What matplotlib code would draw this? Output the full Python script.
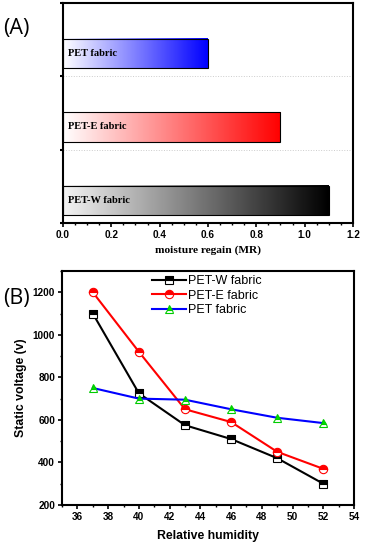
import numpy as np
import matplotlib
matplotlib.use("Agg")
import matplotlib.pyplot as plt
from matplotlib.colors import LinearSegmentedColormap
from matplotlib.ticker import MultipleLocator

# ---- data ----
fabrics_a = ["PET-W fabric", "PET-E fabric", "PET fabric"]
mr_values = [1.10, 0.90, 0.60]
bar_colors = ["#000000", "#ff0000", "#0000ff"]
bar_start_colors = ["#f4f4f4", "#ffffff", "#ffffff"]

humidity = [37, 40, 43, 46, 49, 52]
v_petw = [1100, 725, 575, 510, 420, 300]
v_pete = [1200, 920, 650, 590, 450, 370]
v_pet = [750, 700, 695, 650, 610, 585]

fig = plt.figure(figsize=(3.65, 5.45), dpi=100)

SANS = ["Liberation Sans", "DejaVu Sans"]
SERIF = ["Liberation Serif", "DejaVu Serif"]

# ---------- Panel A ----------
axA = fig.add_axes([0.1726, 0.591, 0.7945, 0.4035])
bar_off = 0.31
bar_h = 0.40
grad = np.linspace(0, 1, 256).reshape(1, -1)
for i, (name, val, c, c0) in enumerate(zip(fabrics_a, mr_values, bar_colors, bar_start_colors)):
    cmap = LinearSegmentedColormap.from_list("g%d" % i, [c0, c])
    y0 = i + bar_off - bar_h / 2
    y1 = i + bar_off + bar_h / 2
    axA.imshow(grad, cmap=cmap, extent=[0, val, y0, y1], aspect="auto", zorder=2)
    axA.barh(i + bar_off, val, height=bar_h, facecolor="none", edgecolor="black",
             linewidth=0.8, zorder=3)
    axA.text(0.02, i + bar_off, name, family=SERIF, fontweight="bold", fontsize=7.5,
             va="center", ha="left", zorder=4)
axA.set_xlim(0, 1.2)
axA.set_ylim(0, 3)
axA.set_yticks([0, 1, 2, 3])
axA.set_yticklabels([])
axA.tick_params(axis="y", length=2, width=1.5, direction="out")
for yy in [1, 2]:
    axA.axhline(yy, color="#cccccc", linestyle=":", linewidth=0.7, zorder=1)
axA.xaxis.set_major_locator(MultipleLocator(0.2))
axA.xaxis.set_minor_locator(MultipleLocator(0.05))
axA.tick_params(axis="x", which="major", length=3, width=1.2, direction="out", pad=2)
axA.tick_params(axis="x", which="minor", length=1.5, width=1.0, direction="out")
for lab in axA.get_xticklabels():
    lab.set_family(SANS)
    lab.set_fontweight("bold")
    lab.set_fontsize(7.2)
axA.set_xlabel("moisture regain (MR)", family=SERIF, fontweight="bold", fontsize=8.2, labelpad=4)
for s in axA.spines.values():
    s.set_linewidth(1.5)
fig.text(0.008, 0.948, "(A)", fontsize=15.5, family=["Open Sans", "DejaVu Sans"], va="center")

# ---------- Panel B ----------
axB = fig.add_axes([0.170, 0.0734, 0.800, 0.4294])
lw = 1.5
ms = 6
axB.plot(humidity, v_petw, color="black", lw=lw, marker="s", ms=ms - 0.5, fillstyle="top",
         markerfacecolor="black", markerfacecoloralt="white", markeredgecolor="black",
         markeredgewidth=0.8, label="PET-W fabric")
axB.plot(humidity, v_pete, color="#ff0000", lw=lw, marker="o", ms=ms, fillstyle="top",
         markerfacecolor="#ff0000", markerfacecoloralt="white", markeredgecolor="#ff0000",
         markeredgewidth=0.8, label="PET-E fabric")
axB.plot(humidity, v_pet, color="#0000ff", lw=lw, marker="^", ms=ms, fillstyle="top",
         markerfacecolor="#00dd00", markerfacecoloralt="white", markeredgecolor="#00cc00",
         markeredgewidth=0.8, label="PET fabric")
axB.set_xlim(35, 54)
axB.set_ylim(200, 1300)
axB.xaxis.set_major_locator(MultipleLocator(2))
axB.xaxis.set_minor_locator(MultipleLocator(1))
axB.yaxis.set_major_locator(MultipleLocator(200))
axB.yaxis.set_minor_locator(MultipleLocator(100))
axB.tick_params(which="major", length=3, width=1.2, direction="out", pad=2)
axB.tick_params(which="minor", length=1.5, width=1.0, direction="out")
for lab in axB.get_xticklabels() + axB.get_yticklabels():
    lab.set_family(SANS)
    lab.set_fontweight("bold")
    lab.set_fontsize(7.2)
axB.set_xlabel("Relative humidity", family=SANS, fontweight="bold", fontsize=8.8, labelpad=6)
axB.set_ylabel("Static voltage (v)", family=SANS, fontweight="bold", fontsize=8.8, labelpad=4)
for s in axB.spines.values():
    s.set_linewidth(1.5)
leg = axB.legend(loc="upper left", bbox_to_anchor=(0.27, 1.03), frameon=False,
                 handlelength=2.7, handletextpad=0.2, labelspacing=0.2,
                 prop={"family": SANS, "size": 9})
fig.text(0.008, 0.452, "(B)", fontsize=15.5, family=["Open Sans", "DejaVu Sans"], va="center")

fig.savefig("out.png", dpi=100)
